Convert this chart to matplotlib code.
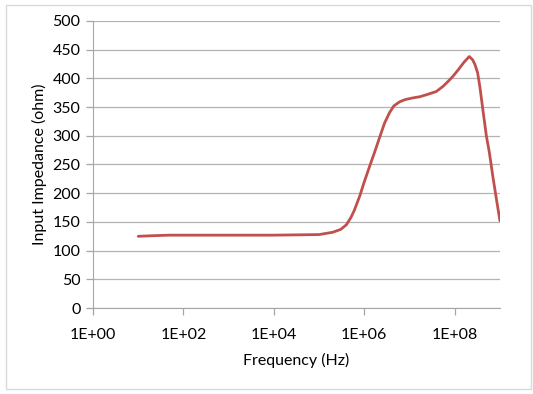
import numpy as np
import matplotlib
matplotlib.use('Agg')
import matplotlib.pyplot as plt
from matplotlib.patches import Rectangle
from matplotlib.ticker import FixedLocator, FuncFormatter, NullLocator

# Input impedance vs. frequency
freq_hz = [1e1, 2e1, 5e1, 1e2, 1e3, 1e4, 1e5, 2e5, 3e5, 4e5, 5e5, 6e5, 8e5,
           1e6, 1.3e6, 1.7e6, 2.2e6, 2.8e6, 3.6e6, 4.5e6, 6e6, 8e6,
           1.2e7, 1.7e7, 2.5e7, 3.9e7, 5.5e7, 7e7, 9e7,
           1.2e8, 1.6e8, 2.1e8, 2.5e8, 2.8e8, 3.2e8, 3.6e8, 4.1e8,
           5e8, 5.8e8, 7e8, 8.5e8, 1e9]
impedance_ohm = [125, 126, 127, 127, 127, 127, 128, 132, 137, 145, 157, 170, 196,
                 220, 246, 272, 298, 322, 340, 352, 359, 363,
                 366, 368, 372, 377, 386, 394, 403,
                 415, 428, 438, 432, 424, 410, 385, 351,
                 300, 272, 228, 186, 152]

x_ticks = [1e0, 1e2, 1e4, 1e6, 1e8]
y_ticks = list(range(0, 501, 50))

plt.rcParams.update({'font.family': ['Lato', 'DejaVu Sans'], 'font.size': 11.5})

fig = plt.figure(figsize=(5.33, 3.94), dpi=100)
fig.patches.append(Rectangle((0.011, 0.012), 0.986, 0.975, transform=fig.transFigure,
                             fill=False, edgecolor='#d9d9d9', linewidth=1.0))
ax = fig.add_axes([0.1745, 0.218, 0.7635, 0.729])

ax.plot(freq_hz, impedance_ohm, color='#C0504D', linewidth=2.0,
        solid_capstyle='round', solid_joinstyle='round')

ax.set_xscale('log')
ax.set_xlim(1, 1e9)
ax.set_ylim(0, 500)
ax.xaxis.set_major_locator(FixedLocator(x_ticks))
ax.xaxis.set_minor_locator(NullLocator())
ax.xaxis.set_major_formatter(FuncFormatter(lambda v, p: '1E+%02d' % int(round(np.log10(v)))))
ax.set_yticks(y_ticks)

ax.grid(axis='y', color='#b3b3b3', linewidth=0.9)
ax.set_axisbelow(True)
for side in ['top', 'right']:
    ax.spines[side].set_visible(False)
for side in ['left', 'bottom']:
    ax.spines[side].set_color('#a6a6a6')
ax.tick_params(axis='both', colors='#a6a6a6', labelcolor='black', length=5, width=0.9)
ax.tick_params(axis='x', pad=9)
ax.tick_params(axis='y', pad=4)

ax.set_xlabel('Frequency (Hz)', labelpad=8)
ax.set_ylabel('Input Impedance (ohm)', labelpad=4)

fig.savefig('out.png', dpi=100)
